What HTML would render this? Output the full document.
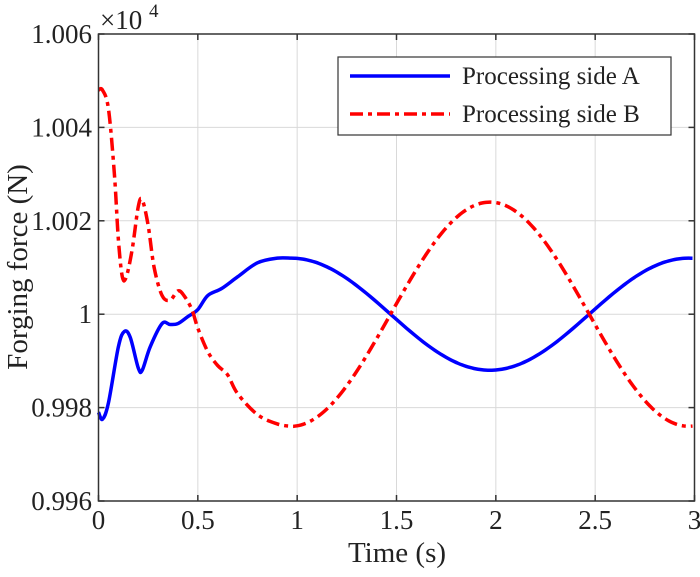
<!DOCTYPE html>
<html><head><meta charset="utf-8"><style>
body{margin:0;background:#fff}
svg text{font-family:"Liberation Serif",serif;fill:#222}
</style></head><body>
<svg id="s" width="700" height="572" xmlns="http://www.w3.org/2000/svg">
<rect x="0" y="0" width="700" height="572" fill="#fff"/>
<g id="grid" stroke="#d9d9d9" stroke-width="1"></g>
<g id="curves" fill="none"></g>
<rect x="98.5" y="34" width="596" height="467" fill="none" stroke="#333" stroke-width="1.5"/>
<g id="ticks" stroke="#333" stroke-width="1.5"></g>
<g id="labels" font-size="24"></g>
<text x="100" y="29" font-size="27">×10</text>
<text x="149" y="17" font-size="19">4</text>
<text x="397" y="562" font-size="29" text-anchor="middle">Time (s)</text>
<text transform="translate(27,267) rotate(-90)" font-size="29" text-anchor="middle">Forging force (N)</text>
<rect x="338" y="57" width="333" height="78" fill="#fff" stroke="#333" stroke-width="1.2"/>
<line x1="350" y1="76" x2="450" y2="76" stroke="#0000ff" stroke-width="3.5"/>
<line x1="350" y1="114" x2="450" y2="114" stroke="#ff0000" stroke-width="3.5" stroke-dasharray="13,5,4,5"/>
<text x="462" y="84" font-size="25">Processing side A</text>
<text x="462" y="122" font-size="25">Processing side B</text>
</svg>
<script>
const X=t=>98.5+t*198.67, Y=v=>34+(1.006-v)/0.002*93.4;
const NS="http://www.w3.org/2000/svg";
function el(p,tag,a,txt){const e=document.createElementNS(NS,tag);for(const k in a)e.setAttribute(k,a[k]);if(txt)e.textContent=txt;document.getElementById(p).appendChild(e);}
const xt=[0,0.5,1,1.5,2,2.5,3],yt=[0.996,0.998,1,1.002,1.004,1.006];
const yl=["0.996","0.998","1","1.002","1.004","1.006"];
xt.forEach(t=>{if(t>0&&t<3)el("grid","line",{x1:X(t),x2:X(t),y1:34,y2:501});
el("ticks","line",{x1:X(t),x2:X(t),y1:501,y2:495});el("ticks","line",{x1:X(t),x2:X(t),y1:34,y2:40});
el("labels","text",{x:X(t),y:529,"text-anchor":"middle","font-size":"27"},String(t));});
yt.forEach((v,i)=>{if(i>0&&i<5)el("grid","line",{x1:98.5,x2:694.5,y1:Y(v),y2:Y(v)});
el("ticks","line",{x1:98.5,x2:104.5,y1:Y(v),y2:Y(v)});el("ticks","line",{x1:694.5,x2:688.5,y1:Y(v),y2:Y(v)});
el("labels","text",{x:92,y:Y(v)+9,"text-anchor":"end","font-size":"27"},yl[i]);});
const A=[[0,0.9979],[0.02,0.99775],[0.05,0.9981],[0.1,0.9993],[0.13,0.99963],[0.16,0.9995],[0.2,0.99885],[0.22,0.9988],[0.26,0.9993],[0.32,0.9998],[0.36,0.99978],[0.4,0.9998],[0.45,0.99995],[0.5,1.0001],[0.55,1.0004],[0.62,1.00055],[0.7,1.0008],[0.8,1.0011],[0.9,1.0012]];
const B=[[0,1.0048],[0.02,1.0048],[0.05,1.0044],[0.08,1.003],[0.1,1.0016],[0.12,1.0008],[0.14,1.0008],[0.17,1.0014],[0.2,1.0023],[0.22,1.00245],[0.25,1.0019],[0.28,1.001],[0.32,1.0004],[0.36,1.0003],[0.4,1.0005],[0.43,1.0004],[0.47,1.0001],[0.5,0.9997],[0.55,0.9992],[0.6,0.9989],[0.65,0.9987],[0.7,0.9983],[0.8,0.99785],[0.9,0.99765]];
for(let t=0.97;t<=3.0001;t+=0.02){A.push([t,1+0.0012*Math.cos(Math.PI*(t-0.97))]);B.push([t,1-0.0024*Math.cos(Math.PI*(t-0.97))]);}
function path(P){const p=P.map(q=>[X(q[0]),Y(q[1])]);let d="M"+p[0];for(let i=0;i<p.length-1;i++){const p0=p[Math.max(0,i-1)],p1=p[i],p2=p[i+1],p3=p[Math.min(p.length-1,i+2)];
const c1=[p1[0]+(p2[0]-p0[0])/6,p1[1]+(p2[1]-p0[1])/6],c2=[p2[0]-(p3[0]-p1[0])/6,p2[1]-(p3[1]-p1[1])/6];d+="C"+c1+" "+c2+" "+p2;}return d;}
el("curves","path",{d:path(A),stroke:"#0000ff","stroke-width":3.5});
el("curves","path",{d:path(B),stroke:"#ff0000","stroke-width":3.5,"stroke-dasharray":"13,5,4,5"});
</script>
</body></html>
